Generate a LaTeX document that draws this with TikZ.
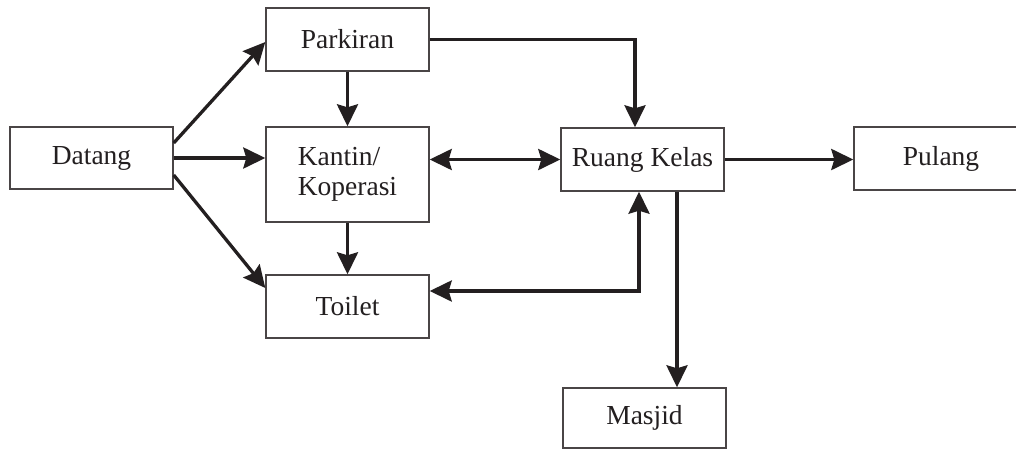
\documentclass[tikz,border=0pt]{standalone}
\usepackage{fontspec}
\setmainfont{Liberation Serif}
\usetikzlibrary{arrows.meta,calc}
\definecolor{ink}{HTML}{231F20}
\definecolor{boxline}{HTML}{4A4546}
\begin{document}
\begin{tikzpicture}[x=1pt,y=-1pt,
  box/.style={draw=boxline,line width=1.4pt,rectangle,inner sep=0pt,
    text=ink,font=\fontsize{27.5}{30}\selectfont,minimum width=163pt,minimum height=63pt},
  conn/.style={draw=ink,line width=3.3pt,-{Stealth[length=22pt,width=21pt,inset=3pt]}},
  bconn/.style={draw=ink,line width=3.3pt,{Stealth[length=22pt,width=21pt,inset=3pt]}-{Stealth[length=22pt,width=21pt,inset=3pt]}}]
\useasboundingbox (0,0) rectangle (1016,450);
\fill[white] (0,0) rectangle (1016,450);
\node[box,minimum height=62pt] (datang) at (91.5,158) {Datang};
\node[box] (parkiran) at (347.5,39.5) {Parkiran};
\node[box,minimum height=95pt,align=left] (kantin) at (347.5,174.5) {Kantin/\\Koperasi};
\node[box] (toilet) at (347.5,306.5) {Toilet};
\node[box] (ruang) at (642.5,159.5) {Ruang Kelas};
\node[box,minimum width=174pt] (pulang) at (941,158.5) {Pulang};
\node[box,minimum height=60pt] (masjid) at (644.5,418) {Masjid};

\draw[conn] ([yshift=15pt]datang.east) -- ([yshift=-2.5pt]parkiran.west);
\draw[conn] (datang.east) -- (datang.east -| kantin.west);
\draw[conn] ([yshift=-17pt]datang.east) -- ([yshift=18.5pt]toilet.west);
\draw[conn] (parkiran.south) -- (kantin.north);
\draw[conn] (kantin.south) -- (toilet.north);
\draw[conn] (parkiran.east) -| ([xshift=-7.5pt]ruang.north);
\draw[bconn] (ruang.west -| kantin.east) -- (ruang.west);
\draw[bconn] ([yshift=15.5pt]toilet.east) -| ([xshift=-3.5pt]ruang.south);
\draw[conn] (ruang.east) -- (ruang.east -| pulang.west);
\coordinate (mstart) at ([xshift=34.5pt]ruang.south);
\draw[conn] (mstart) -- (mstart |- masjid.north);
\end{tikzpicture}
\end{document}
